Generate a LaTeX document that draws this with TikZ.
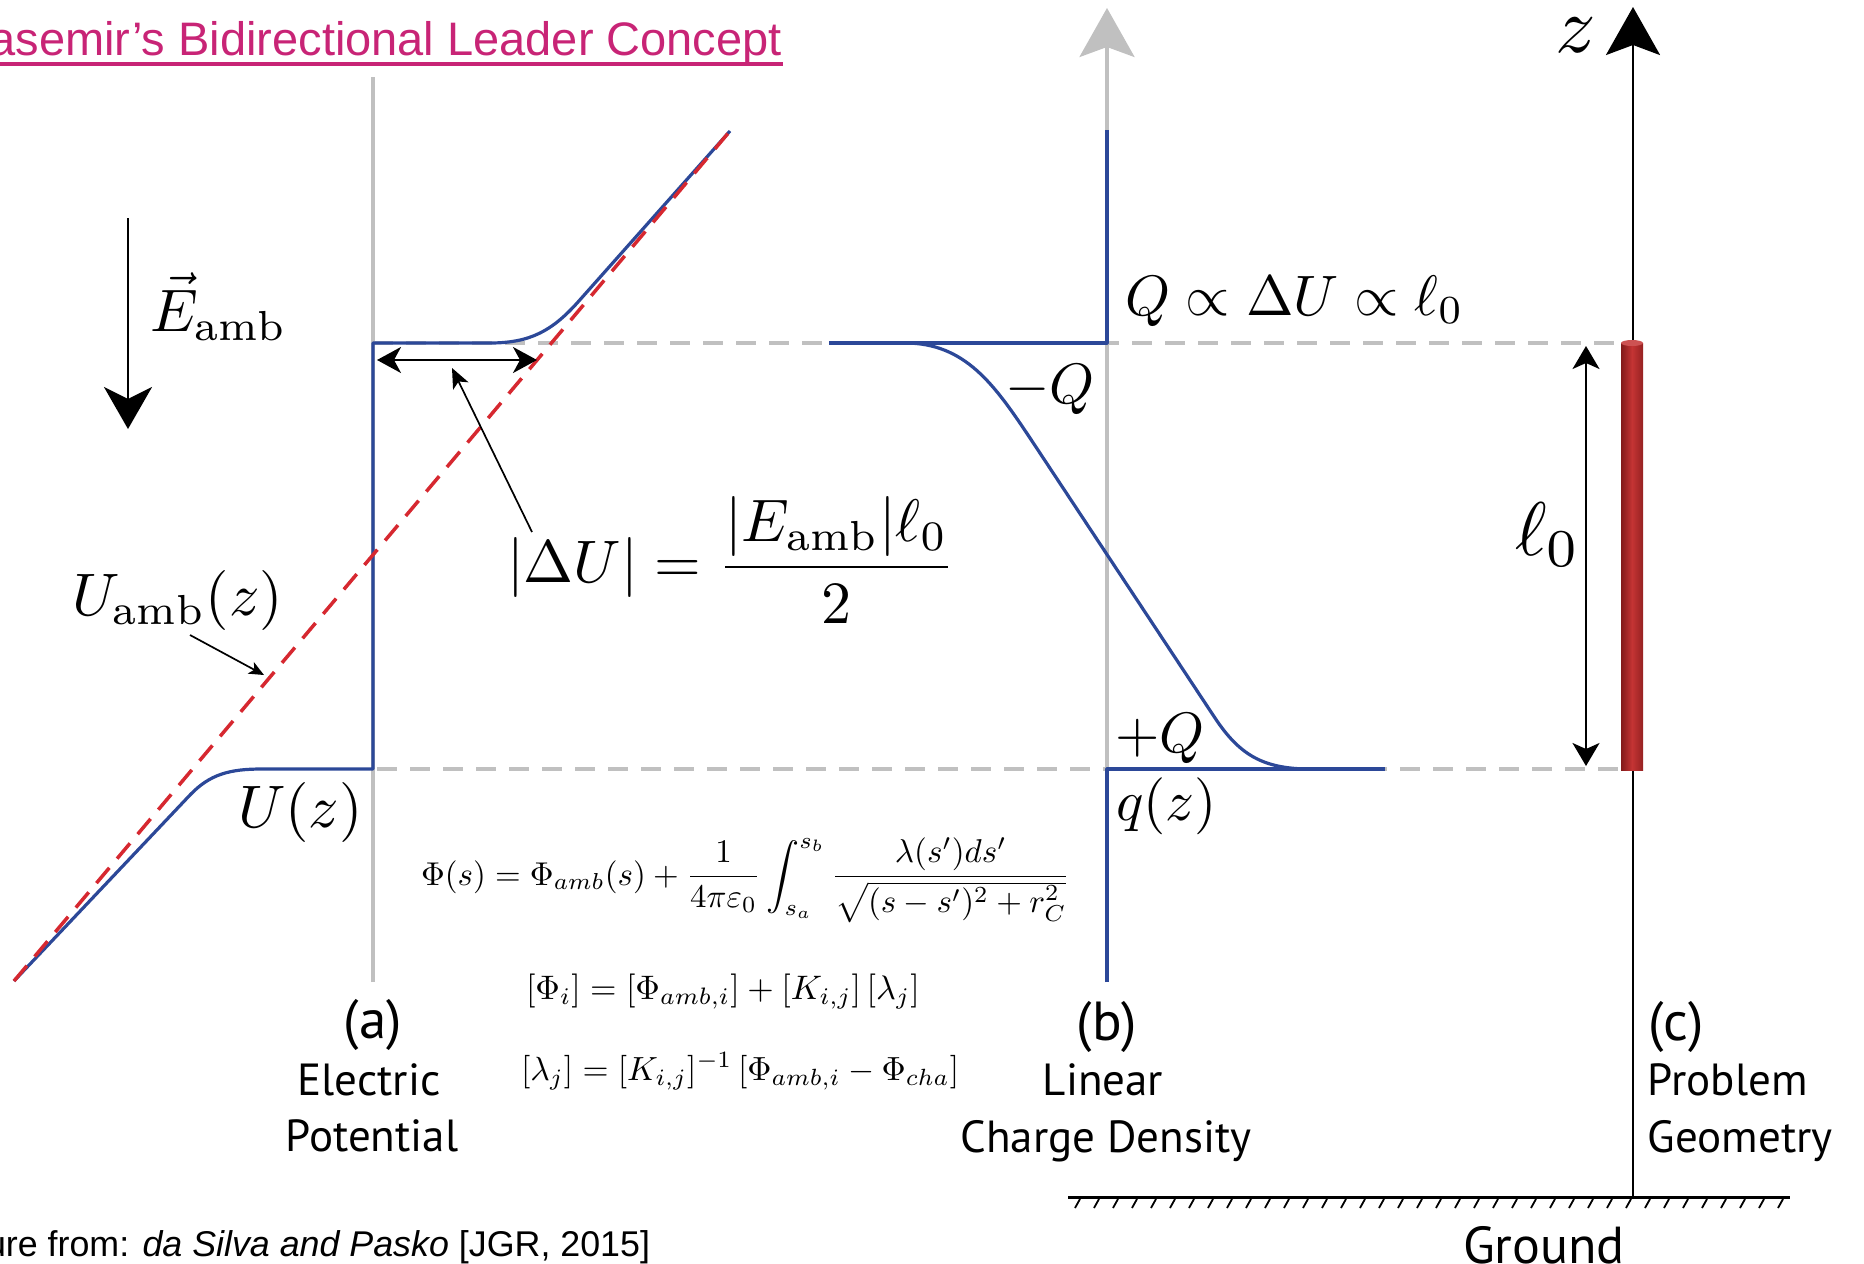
\documentclass[tikz,border=0pt]{standalone}
\usepackage{fontspec}
\newfontfamily\titlefont{Liberation Sans}
\newfontfamily\labfont{PT Sans}
\usetikzlibrary{arrows.meta}
\definecolor{cblue}{RGB}{44,72,152}
\definecolor{cred}{RGB}{214,40,48}
\definecolor{cgray}{RGB}{192,192,192}
\definecolor{cmag}{RGB}{200,36,118}
\definecolor{crod}{RGB}{196,52,52}
\definecolor{crodd}{RGB}{130,26,26}
\begin{document}
\begin{tikzpicture}[x=1pt,y=-1pt,
  bluecurve/.style={cblue,line width=3.2pt,line join=round},
  axisgray/.style={cgray,line width=3.5pt},
  levelline/.style={cgray,line width=4pt,dash pattern=on 20pt off 13pt},
  ambline/.style={cred,line width=3.5pt,dash pattern=on 20pt off 12pt},
  txt/.style={inner sep=0pt,outer sep=0pt},
  panellbl/.style={inner sep=0pt,font=\labfont},
  pointer/.style={black,line width=1.7pt}
]
\useasboundingbox (0,0) rectangle (1864,1264);

% title and footer
\node[txt,anchor=base east,scale=4.7,text=cmag,font=\titlefont] (title) at (782,55) {Kasemir’s Bidirectional Leader Concept};
\coordinate (ulL) at (0,64); \coordinate (ulR) at (783,64);
\draw[cmag,line width=4pt] (ulL) -- (ulR);
\node[txt,anchor=base east,scale=3.58,font=\titlefont] (footer) at (650,1256) {Figure from: \textit{da Silva and Pasko} [JGR, 2015]};

% level lines
\coordinate (upL) at (373,343); \coordinate (upR) at (1619,343);
\coordinate (loL) at (377,769); \coordinate (loR) at (1619,769);
\draw[levelline] (upL) -- (upR);
\draw[levelline] (loL) -- (loR);

% panel (a)
\coordinate (aTop) at (373,77); \coordinate (aBot) at (373,982);
\draw[axisgray] (aBot) -- (aTop);
\coordinate (ambB) at (14,981); \coordinate (ambT) at (730,131);
\draw[bluecurve] (ambB) -- (190,795) .. controls (210,774) and (230,769) .. (262,769) -- (373,769) -- (373,343) -- (490,343) .. controls (530,343) and (552,331) .. (578,302) -- (ambT);
\draw[ambline] (ambB) -- (ambT);

% E arrow
\coordinate (Etop) at (128,218); \coordinate (Etip) at (128,429);
\draw[black,line width=2.7pt,-{Stealth[length=42pt,width=48pt,inset=12pt]}] (Etop) -- (Etip);
\node[txt,anchor=base west,scale=6] (Eamb) at (150,331) {$\vec{E}_{\rm amb}$};

% labels (a)
\node[txt,anchor=base west,scale=6] (Uamb) at (72,615) {$U_{\rm amb}(z)$};
\coordinate (uptrA) at (190,635); \coordinate (uptrB) at (264,675);
\draw[pointer,-{Stealth[length=15pt,width=13pt,inset=4pt]}] (uptrA) -- (uptrB);
\node[txt,anchor=base west,scale=6] (Uz) at (238,827) {$U(z)$};

% double arrow and Delta U
\coordinate (daL) at (377,360); \coordinate (daR) at (537,360);
\draw[black,line width=2pt,{Stealth[length=24pt,width=26pt,inset=7pt]}-{Stealth[length=24pt,width=26pt,inset=7pt]}] (daL) -- (daR);
\node[txt,scale=6] (dU) at (731,560) {$\displaystyle |\Delta U|=\frac{|E_{\rm amb}|\ell_0}{2}$};
\coordinate (dptrA) at (532,532); \coordinate (dptrB) at (452,368);
\draw[pointer,-{Stealth[length=20pt,width=17pt,inset=5pt]}] (dptrA) -- (dptrB);

% equations
\node[txt,anchor=base west,scale=3.3] (eq1) at (421,885) {$\displaystyle \Phi(s)=\Phi_{amb}(s)+\frac{1}{4\pi\varepsilon_0}\int_{s_a}^{s_b}\frac{\lambda(s')ds'}{\sqrt{(s-s')^2+r_C^2}}$};
\node[txt,anchor=base west,scale=3.4] (eq2) at (526,999) {$[\Phi_i]=[\Phi_{amb,i}]+[K_{i,j}]\,[\lambda_j]$};
\node[txt,anchor=base west,scale=3.35] (eq3) at (521,1080) {$[\lambda_j]=[K_{i,j}]^{-1}\,[\Phi_{amb,i}-\Phi_{cha}]$};

% panel (b)
\coordinate (bTip) at (1107,8); \coordinate (bBot) at (1107,982);
\draw[axisgray,-{Stealth[length=49pt,width=55pt,inset=10pt]}] (bBot) -- (bTip);
\draw[bluecurve] (1107,130) -- (1107,343) -- (829,343);
\draw[bluecurve] (1107,982) -- (1107,769) -- (1385,769);
\draw[bluecurve] (905,343) .. controls (965,343) and (994,384) .. (1030,438) -- (1215,718) .. controls (1239,754) and (1262,769) .. (1310,769);
\node[txt,anchor=base west,scale=5.7] (Qprop) at (1125,315) {$Q\propto\Delta U\propto\ell_0$};
\node[txt,anchor=base east,scale=5.7] (mQ) at (1095,403) {$-Q$};
\node[txt,anchor=base west,scale=5.7] (pQ) at (1115,752) {$+Q$};
\node[txt,anchor=base west,scale=5.7] (qz) at (1116,820) {$q(z)$};

% panel (c)
\coordinate (cGnd) at (1633,1197); \coordinate (cTip) at (1633,7);
\draw[black,line width=2.7pt,-{Stealth[length=48pt,width=54pt,inset=10pt]}] (cGnd) -- (cTip);
\node[txt,anchor=base,scale=8] (zlbl) at (1576,52) {$z$};
\shade[left color=crodd,right color=crodd!70!crod,middle color=crod] (1621,343) rectangle (1643,770);
\fill[crod!85!white] (1632,343) ellipse (11 and 3);
\coordinate (lTop) at (1586,346); \coordinate (lBot) at (1586,766);
\draw[black,line width=2pt,{Stealth[length=23pt,width=27pt,inset=6pt]}-{Stealth[length=23pt,width=27pt,inset=6pt]}] (lTop) -- (lBot);
\node[txt,anchor=base west,scale=7.6] (l0) at (1515,555) {$\ell_0$};

% ground
\coordinate (gL) at (1068,1197); \coordinate (gR) at (1790,1197);
\draw[black,line width=3pt] (gL) -- (gR);
\foreach \i in {0,...,37} \draw[black,line width=1.8pt] ({1075+19*\i},1208) -- ({1080+19*\i},1199);
\node[panellbl,anchor=base west,scale=5.2] (ground) at (1462,1263) {Ground};

% panel captions
\node[panellbl,anchor=base,scale=5.5] (capa) at (373,1038) {(a)};
\node[panellbl,anchor=base,scale=4.5] (capa1) at (369,1095) {Electric};
\node[panellbl,anchor=base,scale=4.5] (capa2) at (372,1151) {Potential};
\node[panellbl,anchor=base,scale=5.5] (capb) at (1107,1040) {(b)};
\node[panellbl,anchor=base,scale=4.5] (capb1) at (1103,1095) {Linear};
\node[panellbl,anchor=base,scale=4.5] (capb2) at (1106,1152) {Charge Density};
\node[panellbl,anchor=base west,scale=5.5] (capc) at (1647,1040) {(c)};
\node[panellbl,anchor=base west,scale=4.5] (capc1) at (1647,1095) {Problem};
\node[panellbl,anchor=base west,scale=4.5] (capc2) at (1647,1152) {Geometry};
\end{tikzpicture}
\end{document}
